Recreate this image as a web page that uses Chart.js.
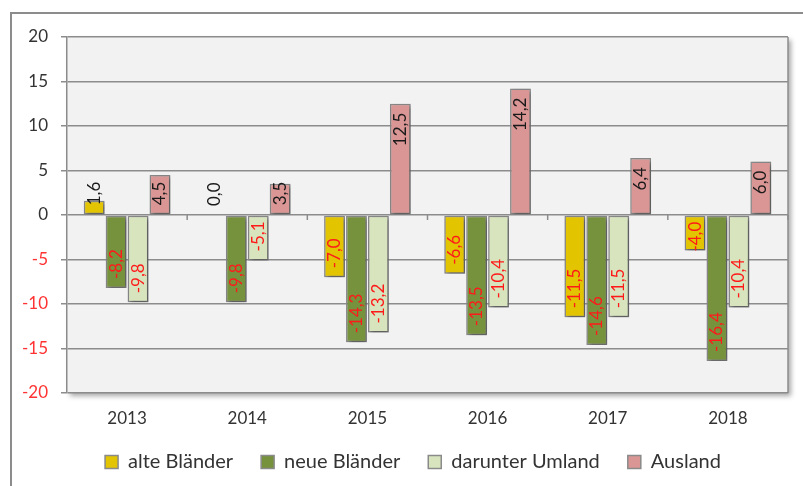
<!DOCTYPE html>
<html>
<head>
<meta charset="utf-8">
<script src="https://cdn.jsdelivr.net/npm/chart.js@4.4.1/dist/chart.umd.min.js"></script>
<style>
    html, body { margin: 0; padding: 0; background: #fff; }
    .wrap { position: relative; width: 803px; height: 486px; overflow: hidden; }
    .frame { position: absolute; left: 10px; top: 12px; width: 900px; height: 600px;
             border-left: 2px solid #8c8c8c; border-top: 2px solid #8c8c8c; }
    canvas { position: absolute; left: 0; top: 0; }
</style>
</head>
<body>
<div class="wrap">
    <div class="frame"></div>
    <canvas id="chart" width="803" height="486"></canvas>
</div>
<script>
const years = ["2013", "2014", "2015", "2016", "2017", "2018"];
const alteBlaender = [1.6, 0.0, -7.0, -6.6, -11.5, -4.0];
const neueBlaender = [-8.2, -9.8, -14.3, -13.5, -14.6, -16.4];
const umland = [-9.8, -5.1, -13.2, -10.4, -11.5, -10.4];
const ausland = [4.5, 3.5, 12.5, 14.2, 6.4, 6.0];

//set colors
let alteColor = "#e2c400";
let neueColor = "#76923c";
let umlandColor = "#d7e4bd";
let auslandColor = "#d99694";
let edgeColor = "#8a8a8a";

const fontFamily = "Lato, 'Noto Sans', sans-serif";

function makeSet(label, values, color) {
    return {
        label: label,
        data: values,
        backgroundColor: color,
        borderColor: edgeColor,
        borderWidth: 1.5,
        borderSkipped: false,
        categoryPercentage: 0.73,
        barPercentage: 0.95
    };
}

// plot area background and frame
const plotArea = {
    id: "plotArea",
    afterLayout(chart) {
        // legend sits a little right of the canvas centre
        chart.legend.left += 14;
        chart.legend.right += 14;
    },
    beforeDraw(chart) {
        const a = chart.chartArea;
        const ctx = chart.ctx;
        ctx.save();
        ctx.shadowColor = "rgba(0,0,0,0.35)";
        ctx.shadowBlur = 5;
        ctx.shadowOffsetX = 3;
        ctx.shadowOffsetY = 3;
        ctx.fillStyle = "#f2f2f2";
        ctx.fillRect(a.left, a.top, a.right - a.left, a.bottom - a.top);
        ctx.restore();
    },
    afterDraw(chart) {
        const a = chart.chartArea;
        const ctx = chart.ctx;
        ctx.save();
        ctx.strokeStyle = "#8c8c8c";
        ctx.lineWidth = 1.5;
        ctx.beginPath();
        ctx.moveTo(a.right, a.top);
        ctx.lineTo(a.right, a.bottom);
        ctx.stroke();
        // tick marks between the years, on the zero line
        const y0 = chart.scales.y.getPixelForValue(0);
        const xs = chart.scales.x;
        const step = (xs.right - xs.left) / years.length;
        ctx.beginPath();
        for (let i = 1; i <= years.length; i++) {
            const x = xs.left + i * step;
            ctx.moveTo(x, y0);
            ctx.lineTo(x, y0 + 5);
        }
        ctx.stroke();
        ctx.restore();
    }
};

// shadow under the bars
const barShadow = {
    id: "barShadow",
    beforeDatasetsDraw(chart) {
        const ctx = chart.ctx;
        ctx.save();
        ctx.shadowColor = "rgba(0,0,0,0.4)";
        ctx.shadowBlur = 4;
        ctx.shadowOffsetX = 2;
        ctx.shadowOffsetY = 2;
    },
    afterDatasetsDraw(chart) {
        chart.ctx.restore();
    }
};

// rotated value labels, inside end of each bar
const valueLabels = {
    id: "valueLabels",
    afterDatasetsDraw(chart) {
        const ctx = chart.ctx;
        ctx.save();
        ctx.font = "17px " + fontFamily;
        ctx.textBaseline = "middle";
        chart.data.datasets.forEach((ds, i) => {
            chart.getDatasetMeta(i).data.forEach((bar, j) => {
                const v = ds.data[j];
                const txt = v.toFixed(1).replace(".", ",");
                const w = ctx.measureText(txt).width;
                const pad = 9;
                ctx.save();
                if (v < 0) {
                    ctx.fillStyle = "#ff1a1a";
                    let yEnd = bar.y - pad;
                    if (yEnd - w < bar.base + 4) yEnd = Math.max(bar.y + 1, bar.base + 4 + w);
                    ctx.translate(bar.x, yEnd);
                    ctx.rotate(-Math.PI / 2);
                    ctx.textAlign = "left";
                } else {
                    ctx.fillStyle = "#1a1a1a";
                    let yTop = bar.y + pad;
                    if (yTop + w > bar.base - 9) yTop = bar.base - 9 - w;
                    ctx.translate(bar.x, yTop);
                    ctx.rotate(-Math.PI / 2);
                    ctx.textAlign = "right";
                }
                ctx.fillText(txt, 0, 0);
                ctx.restore();
            });
        });
        ctx.restore();
    }
};

const ctx = document.getElementById("chart");

new Chart(ctx, {
    type: "bar",
    data: {
        labels: years,
        datasets: [
            makeSet("alte Bländer", alteBlaender, alteColor),
            makeSet("neue Bländer", neueBlaender, neueColor),
            makeSet("darunter Umland", umland, umlandColor),
            makeSet("Ausland", ausland, auslandColor)
        ]
    },
    options: {
        responsive: false,
        animation: false,
        layout: {
            padding: { left: 10, top: 37, right: 15, bottom: 4 }
        },
        scales: {
            x: {
                afterFit(scale) { scale.height = 31; },
                grid: { display: false },
                border: { display: false },
                ticks: {
                    color: "#333333",
                    padding: 7,
                    font: { family: fontFamily, size: 17 }
                }
            },
            y: {
                min: -20,
                max: 20,
                afterFit(scale) { scale.width = 57; },
                grid: {
                    color: "#8c8c8c",
                    lineWidth: 1.5,
                    tickLength: 6
                },
                border: { color: "#8c8c8c", width: 1.5 },
                ticks: {
                    stepSize: 5,
                    padding: 13,
                    color: (c) => c.tick.value < 0 ? "#ff3333" : "#333333",
                    font: { family: fontFamily, size: 17 }
                }
            }
        },
        plugins: {
            legend: {
                position: "bottom",
                labels: {
                    boxWidth: 13,
                    boxHeight: 13,
                    padding: 28,
                    color: "#333333",
                    font: { family: fontFamily, size: 20 }
                }
            },
            tooltip: { enabled: false }
        }
    },
    plugins: [plotArea, barShadow, valueLabels]
});
</script>
</body>
</html>
